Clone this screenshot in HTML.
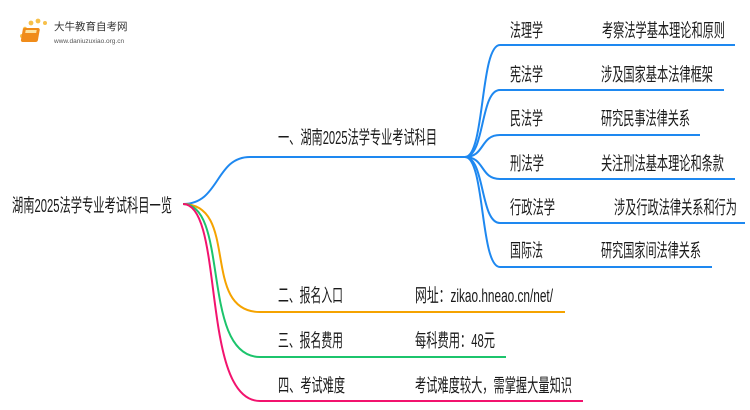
<!DOCTYPE html>
<html><head><meta charset="utf-8"><style>
html,body{margin:0;padding:0;background:#fff;width:750px;height:410px;overflow:hidden}
text{font-family:"Liberation Sans","Noto Sans CJK SC",sans-serif;font-size:18.5px;fill:#1a1a1a}
</style></head><body>
<svg width="750" height="410" viewBox="0 0 750 410" xmlns="http://www.w3.org/2000/svg">
<g>
<circle cx="22" cy="36" r="2" fill="#f7c04a"/><circle cx="25" cy="29" r="2.2" fill="#f7c04a"/><circle cx="31" cy="23" r="2.4" fill="#f7c04a"/><circle cx="38" cy="21" r="2.4" fill="#f7c04a"/><circle cx="45" cy="23" r="2" fill="#f7c04a"/>
<rect x="28" y="28" width="17" height="14" rx="2" fill="#f08c1a" transform="skewX(-10)"/>
<rect x="31" y="30" width="11" height="3" fill="#fde3a0" transform="skewX(-10)"/>
<text x="54" y="30" style="font-size:10.5px;fill:#333">大牛教育自考网</text>
<text x="54" y="43" style="font-size:6.5px;fill:#555">www.daniuzuxiao.org.cn</text>
</g>
<g fill="none" stroke-width="2">
<path d="M183 204 C220 204 215 157 250 157 L465 157" stroke="#1e88f0"/>
<path d="M183 204 C240 204 200 312 260 312 L565 312" stroke="#f5a300"/>
<path d="M183 204 C230 204 200 357 260 357 L506 357" stroke="#1cc46c"/>
<path d="M183 204 C225 204 200 401 260 401 L583 401" stroke="#f2136e"/>
<g stroke="#1e88f0">
<path d="M465 157 C485 157 480 45 500 45 L735 45"/>
<path d="M465 157 C485 157 480 90 500 90 L724 90"/>
<path d="M465 157 C485 157 480 135 500 135 L700 135"/>
<path d="M465 157 C485 157 480 179 500 179 L735 179"/>
<path d="M465 157 C485 157 480 223 500 223 L745 223"/>
<path d="M465 157 C485 157 480 267 500 267 L712 267"/>
</g>
</g>
<text x="12" y="212" textLength="160" lengthAdjust="spacingAndGlyphs">湖南2025法学专业考试科目一览</text>
<text x="278" y="144" textLength="159" lengthAdjust="spacingAndGlyphs">一、湖南2025法学专业考试科目</text>
<text x="278" y="302" textLength="65" lengthAdjust="spacingAndGlyphs">二、报名入口</text>
<text x="278" y="347" textLength="65" lengthAdjust="spacingAndGlyphs">三、报名费用</text>
<text x="278" y="392" textLength="67" lengthAdjust="spacingAndGlyphs">四、考试难度</text>
<text x="415" y="302" textLength="138" lengthAdjust="spacingAndGlyphs">网址：zikao.hneao.cn/net/</text>
<text x="415" y="347" textLength="80" lengthAdjust="spacingAndGlyphs">每科费用：48元</text>
<text x="415" y="392" textLength="157" lengthAdjust="spacingAndGlyphs">考试难度较大，需掌握大量知识</text>
<text x="510" y="37" textLength="33" lengthAdjust="spacingAndGlyphs">法理学</text>
<text x="510" y="81" textLength="33" lengthAdjust="spacingAndGlyphs">宪法学</text>
<text x="510" y="125" textLength="33" lengthAdjust="spacingAndGlyphs">民法学</text>
<text x="510" y="170" textLength="34" lengthAdjust="spacingAndGlyphs">刑法学</text>
<text x="510" y="214" textLength="45" lengthAdjust="spacingAndGlyphs">行政法学</text>
<text x="510" y="257" textLength="33" lengthAdjust="spacingAndGlyphs">国际法</text>
<text x="602" y="37" textLength="123" lengthAdjust="spacingAndGlyphs">考察法学基本理论和原则</text>
<text x="601" y="81" textLength="112" lengthAdjust="spacingAndGlyphs">涉及国家基本法律框架</text>
<text x="601" y="125" textLength="89" lengthAdjust="spacingAndGlyphs">研究民事法律关系</text>
<text x="601" y="170" textLength="123" lengthAdjust="spacingAndGlyphs">关注刑法基本理论和条款</text>
<text x="614" y="214" textLength="123" lengthAdjust="spacingAndGlyphs">涉及行政法律关系和行为</text>
<text x="601" y="257" textLength="100" lengthAdjust="spacingAndGlyphs">研究国家间法律关系</text>
</svg>
</body></html>
